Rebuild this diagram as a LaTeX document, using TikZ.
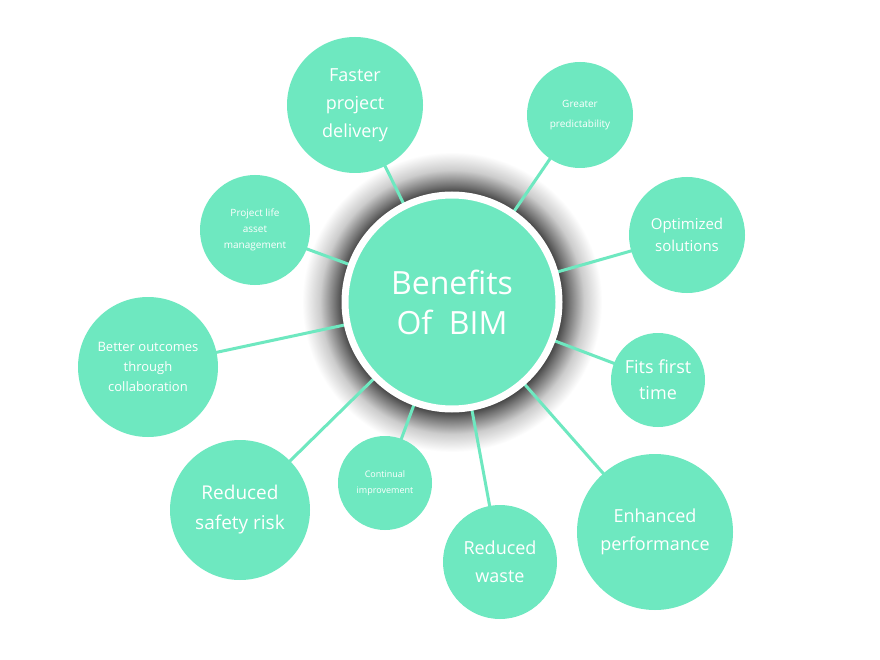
\documentclass[tikz,border=0pt]{standalone}
\usepackage{fontspec}
\setmainfont{Open Sans}
\usetikzlibrary{backgrounds}
\pgfdeclareradialshading{halo}{\pgfpoint{0bp}{0bp}}{color(0bp)=(black!85); color(17.5bp)=(black!85); color(19.5bp)=(black!55); color(22bp)=(black!20); color(25bp)=(white); color(50bp)=(white)}
\definecolor{bim}{HTML}{6EE8C0}
\tikzset{
 bub/.style={circle,fill=bim,text=white,align=center,inner sep=0pt},
 link/.style={draw=bim,line width=3pt}
}
\begin{document}
\begin{tikzpicture}[x=1pt,y=-1pt]
\useasboundingbox (0,0) rectangle (880,660);
\node[circle,fill=bim,draw=white,line width=7pt,minimum size=214,text=white,align=center,font=\fontsize{32}{40}\selectfont] (cen) at (452,302) {Benefits\\Of\ \ BIM};
\foreach \n/\x/\y/\s/\t/\f/\l in {a/355/105/136/{Faster\\project\\delivery}/18/28,b/580/115/106/{Greater\\predictability}/10/20,d/687/235/116/{Optimized\\solutions}/15/22,e/658/380/94/{Fits first\\time}/18/26,f/655/532/156/{Enhanced\\performance}/18/28,g/500/562/114/{Reduced\\waste}/18/28,h/385/483/94/{Continual\\improvement}/9/16,i/240/510/140/{Reduced\\safety risk}/19/30,j/148/367/140/{Better outcomes\\through\\collaboration}/13/20,k/255/230/110/{Project life\\asset\\management}/10/16}
  \node[bub,minimum size=\s,font=\fontsize{\f}{\l}\selectfont] (\n) at (\x,\y) {\t};
\begin{scope}[on background layer]
\fill[white] (0,0) rectangle (880,660);
\shade[shading=halo] (cen.center) circle (150);
\foreach \n in {a,b,d,e,f,g,h,i,j,k} \draw[link] (\n.center) -- (cen.center);
\end{scope}
\end{tikzpicture}
\end{document}
